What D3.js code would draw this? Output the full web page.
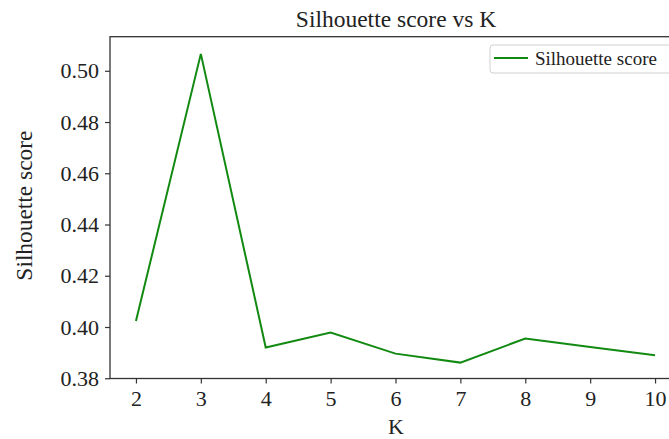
<!DOCTYPE html>
<html>
<head>
<meta charset="utf-8">
<script src="https://cdn.jsdelivr.net/npm/d3@7"></script>
<style>
  html, body { margin: 0; padding: 0; background: #fff; overflow: hidden; }
  svg { display: block; }
  svg text { font-family: "Times New Roman", "Liberation Serif", Tinos, "DejaVu Serif", serif; }
</style>
</head>
<body>
<svg id="chart" width="669" height="439"></svg>
<script>
// Silhouette score for each number of clusters K
const kValues = [2, 3, 4, 5, 6, 7, 8, 9, 10];
const silhouette = [0.4023, 0.5066, 0.3920, 0.3978, 0.3896, 0.3861, 0.3955, 0.3922, 0.3890];
const yTicks = [0.38, 0.40, 0.42, 0.44, 0.46, 0.48, 0.50];
const xTicks = [2, 3, 4, 5, 6, 7, 8, 9, 10];

const svg = d3.select("#chart");
const plotL = 110, plotR = 681, plotT = 36.7, plotB = 378.5;

const x = d3.scaleLinear().domain([1.6, 10.4]).range([plotL, plotR]);
const y = d3.scaleLinear().domain([0.3799, 0.5133]).range([plotB, plotT]);

// axes frame
svg.append("rect")
  .attr("x", plotL).attr("y", plotT)
  .attr("width", plotR - plotL).attr("height", plotB - plotT)
  .attr("fill", "none").attr("stroke", "#333").attr("stroke-width", 1.3);

const xAxis = svg.append("g")
  .attr("transform", `translate(0,${plotB})`)
  .call(d3.axisBottom(x).tickValues(xTicks).tickFormat(d3.format("d")).tickSize(5).tickPadding(5));
const yAxis = svg.append("g")
  .attr("transform", `translate(${plotL},0)`)
  .call(d3.axisLeft(y).tickValues(yTicks).tickFormat(d3.format(".2f")).tickSize(5).tickPadding(6));

[xAxis, yAxis].forEach(g => {
  g.attr("font-family", null).attr("font-size", null);
  g.select(".domain").remove();
  g.selectAll(".tick line").attr("stroke", "#333").attr("stroke-width", 1.2);
  g.selectAll(".tick text")
    .attr("fill", "#222")
    .style("font-size", "22px");
});
// x tick labels sit on a fixed baseline below the ticks
xAxis.selectAll(".tick text").attr("dy", null).attr("y", 27.8);

// data line
const line = d3.line().x((d, i) => x(kValues[i])).y(d => y(d));
svg.append("path")
  .datum(silhouette)
  .attr("d", line)
  .attr("fill", "none")
  .attr("stroke", "#128a12")
  .attr("stroke-width", 2)
  .attr("stroke-linejoin", "miter");

// title and axis labels
svg.append("text")
  .attr("x", 396).attr("y", 26.7)
  .attr("text-anchor", "middle")
  .attr("fill", "#222")
  .style("font-size", "23.5px")
  .text("Silhouette score vs K");

svg.append("text")
  .attr("x", 396).attr("y", 433.5)
  .attr("text-anchor", "middle")
  .attr("fill", "#222")
  .style("font-size", "22px")
  .text("K");

svg.append("text")
  .attr("transform", `translate(32,${(plotT + plotB) / 2 - 2}) rotate(-90)`)
  .attr("text-anchor", "middle")
  .attr("fill", "#222")
  .style("font-size", "23.4px")
  .text("Silhouette score");

// legend
const lg = svg.append("g").attr("transform", "translate(490,45)");
lg.append("rect")
  .attr("x", 0).attr("y", 0)
  .attr("width", 186).attr("height", 28)
  .attr("rx", 3)
  .attr("fill", "#fff")
  .attr("stroke", "#d0d0d0");
lg.append("line")
  .attr("x1", 4).attr("x2", 38)
  .attr("y1", 13).attr("y2", 13)
  .attr("stroke", "#128a12").attr("stroke-width", 2);
lg.append("text")
  .attr("x", 45).attr("y", 19.5)
  .attr("fill", "#222")
  .style("font-size", "19px")
  .text("Silhouette score");
</script>
</body>
</html>
